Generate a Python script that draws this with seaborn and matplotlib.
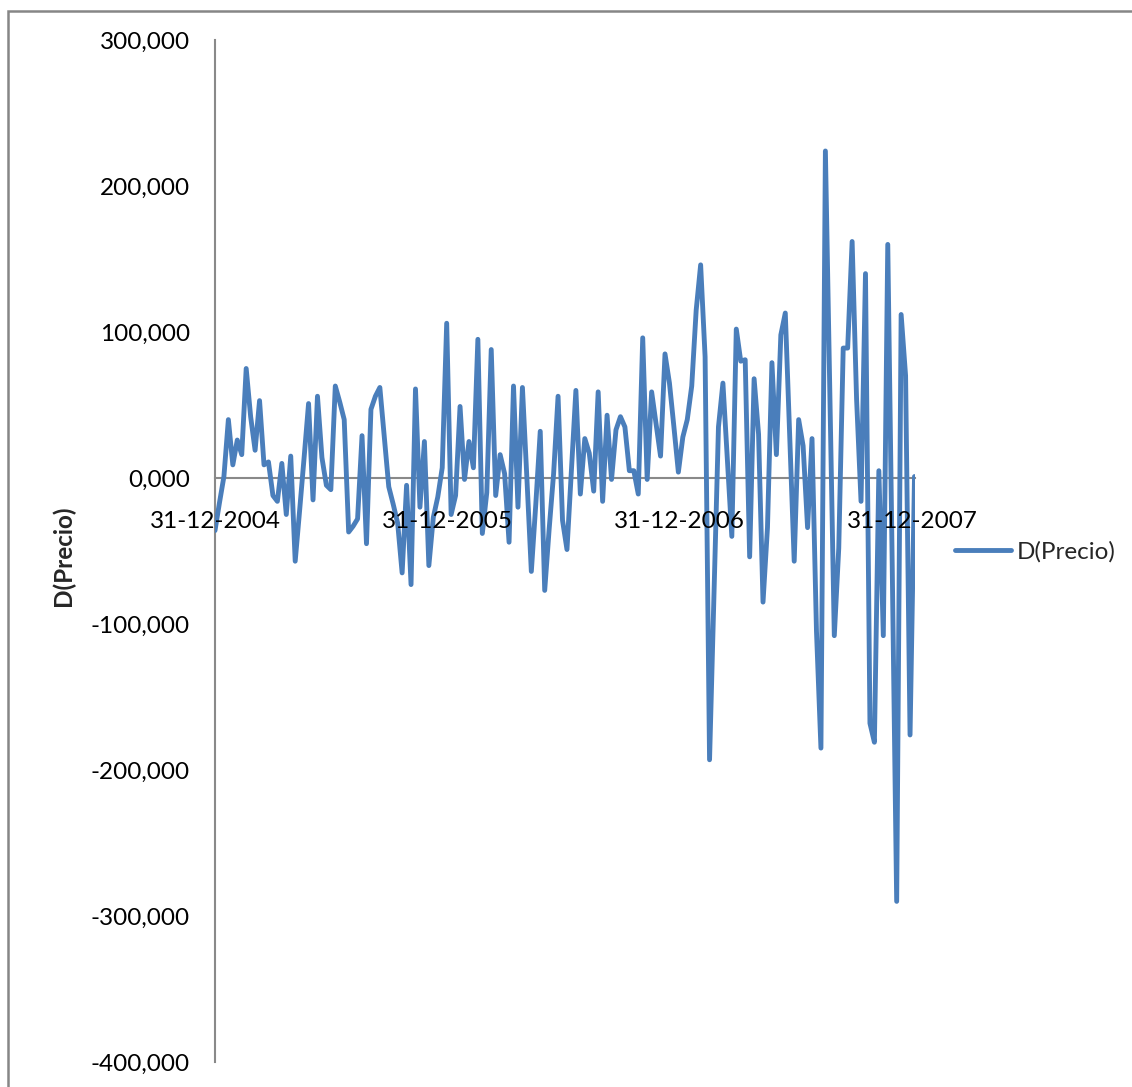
import numpy as np
import pandas as pd
import matplotlib
matplotlib.use("Agg")
import matplotlib.pyplot as plt
import matplotlib.dates as mdates
from matplotlib.ticker import FuncFormatter, MultipleLocator
from matplotlib.patches import Rectangle
import seaborn as sns

# Weekly first difference of the price series
start_date = "2004-12-31"
d_precio = [
    -36, -17, 1, 40, 9, 26, 16, 75, 42, 19,
    53, 9, 11, -12, -16, 10, -25, 15, -57, -22,
    14, 51, -15, 56, 14, -5, -8, 63, 52, 40,
    -37, -33, -28, 29, -45, 47, 56, 62, 28, -6,
    -18, -31, -65, -5, -73, 61, -20, 25, -60, -27,
    -13, 7, 106, -25, -12, 49, -1, 25, 7, 95,
    -38, -10, 88, -12, 16, 3, -44, 63, -20, 62,
    0, -64, -18, 32, -77, -35, 3, 56, -29, -49,
    5, 60, -11, 27, 17, -9, 59, -16, 43, -1,
    33, 42, 35, 5, 5, -11, 96, -1, 59, 37,
    15, 85, 65, 35, 4, 28, 40, 63, 115, 146,
    83, -193, -80, 35, 65, 12, -40, 102, 80, 81,
    -54, 68, 30, -85, -34, 79, 16, 98, 113, 28,
    -57, 40, 22, -34, 27, -105, -185, 224, 58, -108,
    -48, 89, 89, 162, 54, -16, 140, -168, -181, 5,
    -108, 160, -60, -290, 112, 70, -176, 1,
]
year_ticks = ["2004-12-31", "2005-12-31", "2006-12-31", "2007-12-31"]
series_name = "D(Precio)"

dates = pd.date_range(start_date, periods=len(d_precio), freq="7D")
df = pd.DataFrame({"Fecha": dates, series_name: d_precio})

sns.set_style("white")
plt.rcParams["font.family"] = ["Lato", "DejaVu Sans"]

W, H = 1132, 1087
fig = plt.figure(figsize=(W / 100, H / 100), dpi=100)
ax = fig.add_axes([215 / W, 25 / H, 699.5 / W, 1022 / H])

line_color = "#4A7EBB"
axis_color = "#898989"

sns.lineplot(data=df, x="Fecha", y=series_name, ax=ax, color=line_color,
             linewidth=3.5, label=series_name, legend=False, zorder=2)

ax.set_ylim(-400, 300)
ax.set_xlim(dates[0], dates[-1])
ax.yaxis.set_major_locator(MultipleLocator(100))
ax.yaxis.set_major_formatter(
    FuncFormatter(lambda v, _: f"{v:.3f}".replace(".", ",")))

ax.set_xticks(pd.to_datetime(year_ticks))
ax.xaxis.set_major_formatter(mdates.DateFormatter("%d-%m-%Y"))

ax.grid(False)
for side in ("top", "right"):
    ax.spines[side].set_visible(False)
ax.spines["bottom"].set_position(("data", 0))
for side in ("left", "bottom"):
    ax.spines[side].set_color(axis_color)
    ax.spines[side].set_linewidth(1.5)
    ax.spines[side].set_zorder(1)
# date labels sit on top of the series
ax.xaxis.set_zorder(3)

ax.tick_params(axis="y", length=0, pad=18, labelsize=17.5, labelcolor="black")
ax.tick_params(axis="x", length=0, pad=24, labelsize=17.5, labelcolor="black")

ax.set_xlabel("")
ax.set_ylabel(series_name, fontsize=17.5, fontweight="bold")
ax.yaxis.set_label_coords((75 - 215) / 699.5, 0.495)

handles, labels = ax.get_legend_handles_labels()
fig.legend(handles, labels, loc="center left",
           bbox_to_anchor=(955 / W, 1 - 552 / H), frameon=False,
           fontsize=17.5, handlelength=2.3, handletextpad=0.25, borderpad=0,
           borderaxespad=0)

# Chart frame
fig.patches.append(Rectangle((8 / W, -0.2), 1.5, 0.2 + 1 - 11 / H,
                             transform=fig.transFigure, fill=False,
                             edgecolor="#868686", linewidth=1.8))

fig.savefig("out.png", dpi=100, facecolor="white")
